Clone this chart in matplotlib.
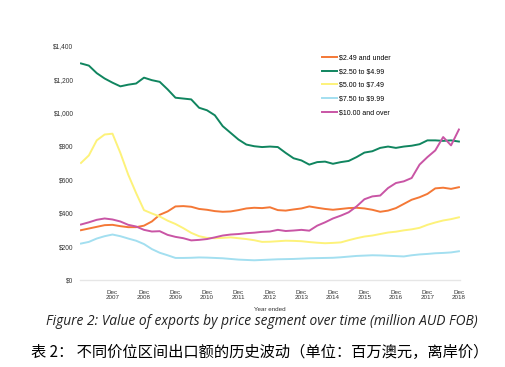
import matplotlib.pyplot as plt
import numpy as np

# quarterly readings, Dec 2006 .. Dec 2018 (million AUD)
quarters = np.arange(2006.917, 2018.95, 0.25)

under_249 = [298, 308, 318, 328, 330, 322, 316, 316, 325, 350, 390, 410,
             440, 442, 438, 425, 420, 412, 408, 410, 418, 428, 432, 430,
             435, 418, 415, 422, 428, 440, 432, 425, 420, 425, 430, 432,
             428, 420, 408, 415, 430, 455, 480, 495, 515, 548, 552, 545, 555]
from_250 = [1295, 1282, 1237, 1205, 1180, 1158, 1168, 1175, 1210, 1195, 1185, 1140,
            1090, 1085, 1080, 1030, 1015, 985, 920, 880, 840, 810, 800, 795,
            798, 795, 760, 728, 715, 690, 705, 708, 695, 705, 712, 735,
            762, 770, 790, 798, 790, 798, 803, 812, 835, 835, 832, 835, 828]
from_500 = [700, 745, 835, 870, 875, 760, 630, 520, 418, 398, 380, 355,
            335, 310, 282, 262, 252, 250, 252, 255, 250, 245, 238, 228,
            229, 232, 235, 234, 232, 227, 223, 220, 222, 225, 238, 250,
            260, 266, 275, 284, 289, 297, 303, 312, 330, 344, 356, 364, 375]
from_750 = [218, 228, 248, 262, 272, 262, 248, 235, 215, 185, 163, 148,
            132, 132, 133, 135, 134, 132, 130, 126, 122, 120, 118, 120,
            122, 124, 125, 126, 128, 130, 131, 132, 133, 136, 140, 144,
            146, 148, 147, 145, 143, 141, 148, 153, 156, 160, 162, 165, 172]
over_10 = [332, 345, 360, 368, 362, 350, 330, 320, 300, 290, 292, 270,
           258, 250, 237, 240, 245, 255, 266, 272, 275, 280, 283, 288,
           290, 300, 293, 296, 300, 295, 325, 345, 368, 385, 405, 440,
           483, 500, 505, 550, 580, 590, 610, 690, 735, 775, 855, 805, 900]

series_names = [r"\$2.49 and under", r"\$2.50 to \$4.99", r"\$5.00 to \$7.49",
                r"\$7.50 to \$9.99", r"\$10.00 and over"]
series_colors = ["#f47836", "#10855f", "#fdf27a", "#a3dff0", "#c955a5"]
years = list(range(2007, 2019))

plt.rcParams["font.family"] = ["Liberation Sans", "DejaVu Sans"]

fig = plt.figure(figsize=(5.06, 3.67), dpi=100)
ax = fig.add_axes([0.159, 0.237, 0.75, 0.638])

all_series = [under_249, from_250, from_500, from_750, over_10]
for vals, name, col in zip(all_series, series_names, series_colors):
    ax.plot(quarters, vals, color=col, lw=1.4, label=name)

ax.set_xlim(2006.9, 2018.95)
ax.set_ylim(0, 1400)
ax.set_yticks(range(0, 1401, 200))
ax.set_yticklabels([r"\$" + format(v, ",") for v in range(0, 1401, 200)], fontsize=4.8, color="#333333")
ax.set_xticks([y + 0.917 for y in years])
ax.set_xticklabels(["Dec\n" + str(y) for y in years], fontsize=4.5, color="#333333", linespacing=1.1)
ax.tick_params(axis="x", length=0, pad=7)
ax.tick_params(axis="y", length=0, pad=5)
for s in ["top", "right", "left"]:
    ax.spines[s].set_visible(False)
ax.spines["bottom"].set_color("#e6e6e6")
ax.spines["bottom"].set_linewidth(1)
ax.set_xlabel("Year ended", fontsize=4.5, color="#333333", labelpad=5)

ax.legend(loc="upper left", bbox_to_anchor=(0.636, 0.852), bbox_transform=fig.transFigure,
          frameon=False, fontsize=5, handlelength=2.2, handletextpad=0.3, labelspacing=0.98,
          borderaxespad=0, borderpad=0)

fig.text(0.518, 0.125, "Figure 2: Value of exports by price segment over time (million AUD FOB)",
         ha="center", va="center", fontsize=9.9, style="italic", family="Open Sans", color="#222222")
fig.text(0.513, 0.04, "表 2： 不同价位区间出口额的历史波动（单位：百万澳元，离岸价）",
         ha="center", va="center", fontsize=11, family=["Noto Sans CJK SC", "DejaVu Sans"], color="#000000")

fig.savefig("out.png", dpi=100)
